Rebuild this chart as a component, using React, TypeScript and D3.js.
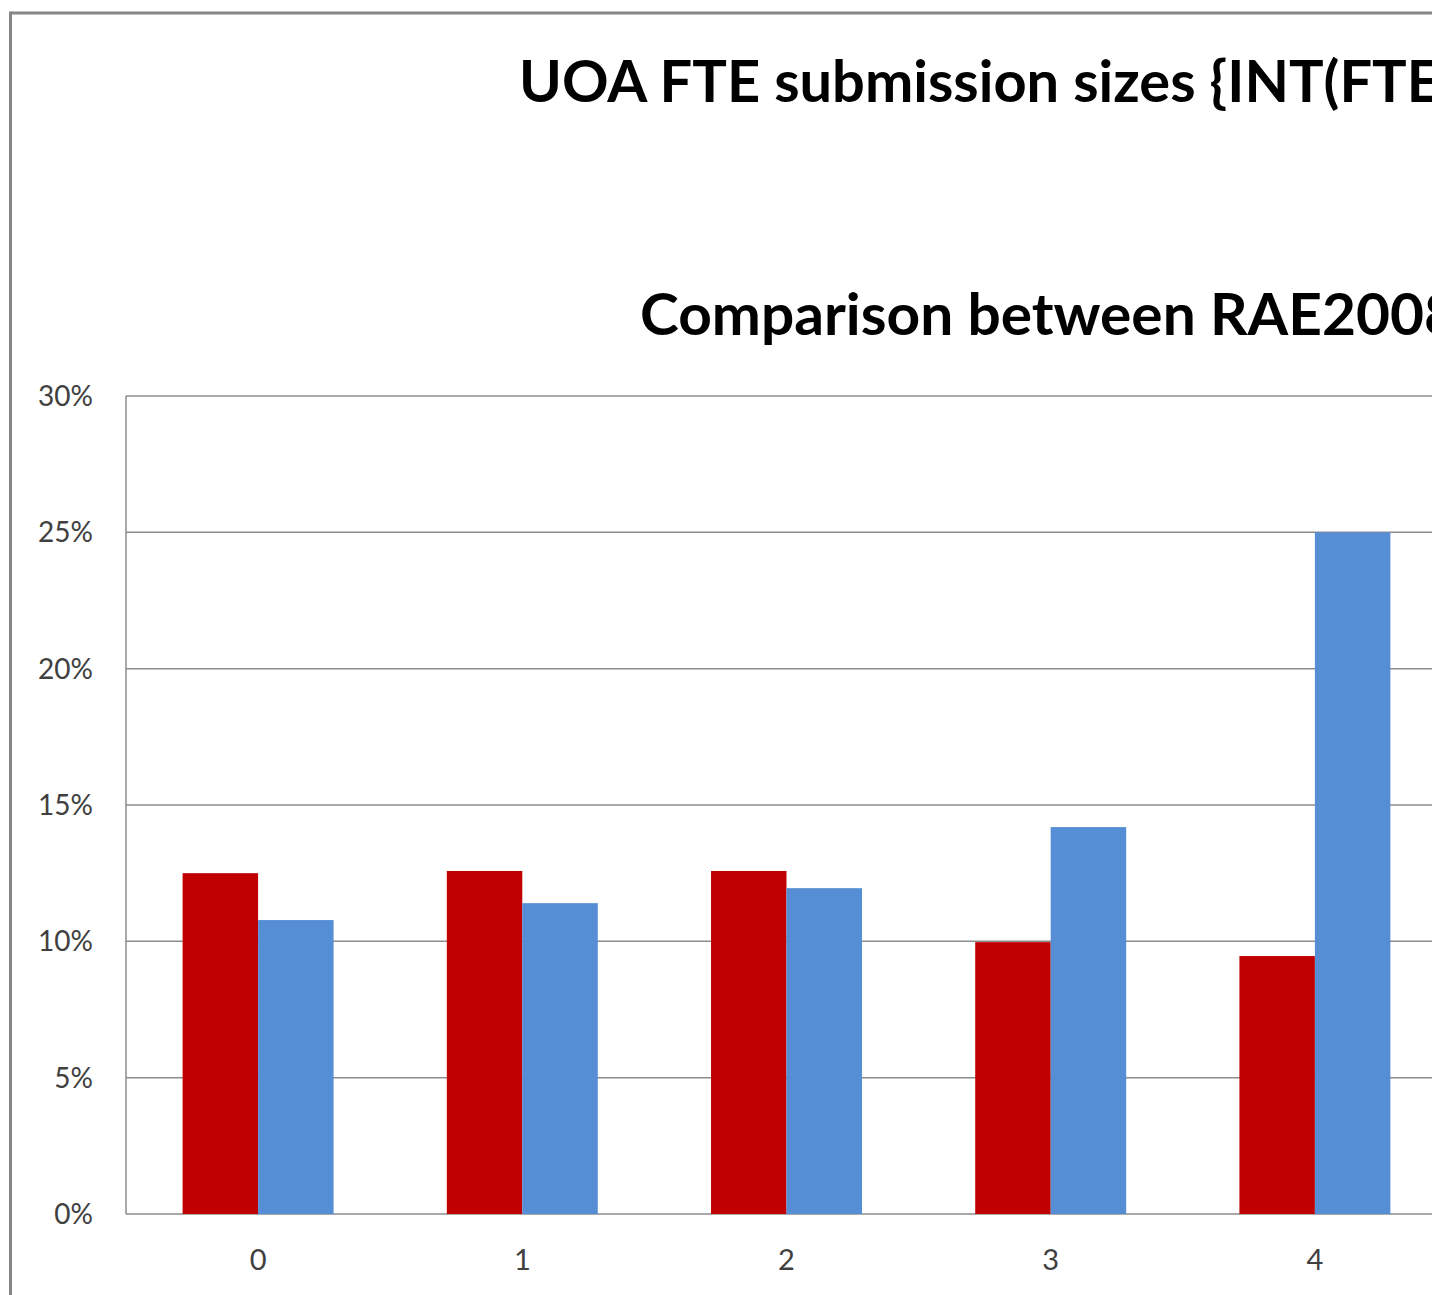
import * as d3 from 'd3'

// values (share of UOA submissions per FTE band)
const categories = ['0', '1', '2', '3', '4']
const seriesNames = ['RAE2008', 'REF2014']
const rae2008 = [0.125, 0.1258, 0.1258, 0.0997, 0.0946]
const ref2014 = [0.1078, 0.114, 0.1195, 0.1419, 0.25]
const yTicks = [0, 0.05, 0.1, 0.15, 0.2, 0.25, 0.3]
const titleLine1 = 'UOA FTE submission sizes {INT(FTE'
const titleLine2 = 'Comparison between RAE2008'

const W = 1437
const H = 1295
const CLIP_X = 1432
const colors = ['#C00000', '#558ED5']
const FONT = 'Lato, "Open Sans", "DejaVu Sans", sans-serif'

const plot = { left: 126, top: 396, bottom: 1214, step: 264.2 }

const y = d3.scaleLinear().domain([0, 0.3]).range([plot.bottom, plot.top])
const x = d3.scaleBand()
    .domain(categories)
    .range([plot.left, plot.left + plot.step * categories.length])
    .paddingInner(0)
    .paddingOuter(0)
const xs = d3.scaleBand()
    .domain(seriesNames)
    .range([0, x.bandwidth()])
    .paddingInner(0)
    .paddingOuter(0.75)

const pct = d3.format('.0%')
const plotRight = x.range()[1]

const Grid = () => (
    <g>
        {yTicks.map(t => (
            <line key={t} x1={plot.left} x2={plotRight} y1={y(t)} y2={y(t)}
                stroke="#8c8c8c" strokeWidth={1.5} />
        ))}
        <line x1={plot.left} x2={plot.left} y1={plot.top} y2={plot.bottom}
            stroke="#8c8c8c" strokeWidth={1.5} />
    </g>
)

const Bars = () => {
    const series = [rae2008, ref2014]
    return (
        <g>
            {series.map((vals, si) =>
                vals.map((v, i) => (
                    <rect key={`${si}-${i}`}
                        x={(x(categories[i]) as number) + (xs(seriesNames[si]) as number)}
                        y={y(v)}
                        width={xs.bandwidth()}
                        height={y(0) - y(v)}
                        fill={colors[si]} />
                ))
            )}
        </g>
    )
}

const YAxis = () => (
    <g>
        {yTicks.map(t => (
            <text key={t} x={93} y={y(t)} dy="0.36em" textAnchor="end"
                fontFamily={FONT} fontSize={28} fill="#404040">{pct(t)}</text>
        ))}
    </g>
)

const XAxis = () => (
    <g>
        {categories.map(c => (
            <text key={c} x={(x(c) as number) + x.bandwidth() / 2} y={1270}
                textAnchor="middle" fontFamily={FONT} fontSize={29} fill="#404040">{c}</text>
        ))}
    </g>
)

export default function App() {
    return (
        <svg width={W} height={H} style={{ position: 'absolute', left: 0, top: 0, background: '#fff' }}>
            <defs>
                <clipPath id="crop">
                    <rect x={0} y={0} width={CLIP_X} height={H} />
                </clipPath>
            </defs>
            <g clipPath="url(#crop)">
                <rect x={0} y={0} width={W} height={H} fill="#fff" />
                {/* chart area frame, only top and left edges visible */}
                <line x1={10.5} x2={W} y1={13} y2={13} stroke="#868686" strokeWidth={3} />
                <line x1={10.5} x2={10.5} y1={11.5} y2={H} stroke="#868686" strokeWidth={3} />
                <text x={519} y={102} fontFamily={FONT} fontWeight={700} fontSize={58}
                    textLength={1440 - 519} lengthAdjust="spacingAndGlyphs" fill="#000">{titleLine1}</text>
                <text x={640} y={335} fontFamily={FONT} fontWeight={700} fontSize={58}
                    textLength={1458 - 640} lengthAdjust="spacingAndGlyphs" fill="#000">{titleLine2}</text>
                <Grid />
                <Bars />
                <YAxis />
                <XAxis />
            </g>
        </svg>
    )
}
